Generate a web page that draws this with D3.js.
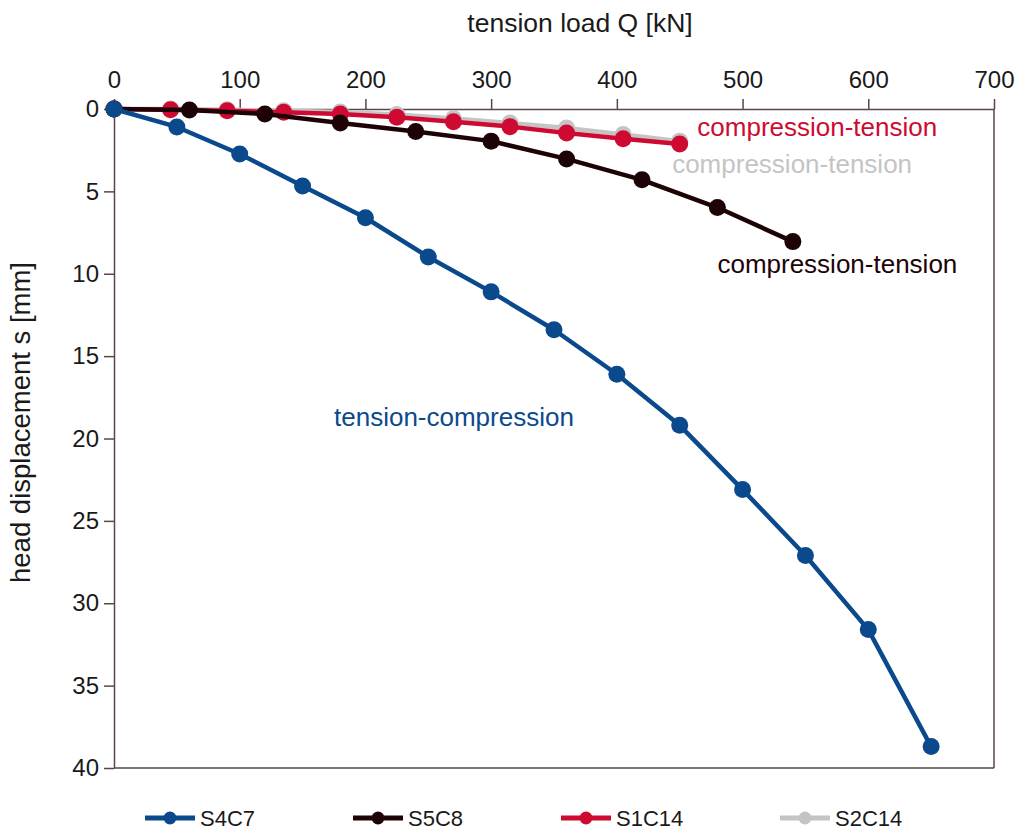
<!DOCTYPE html>
<html>
<head>
<meta charset="utf-8">
<script src="https://cdn.jsdelivr.net/npm/d3@7"></script>
<style>
  html, body { margin: 0; padding: 0; background: #ffffff; }
  svg { display: block; font-family: "Liberation Sans", Arial, sans-serif; }
</style>
</head>
<body>
<svg id="chart" width="1019" height="836"></svg>
<script>
// ---------- data ----------
const loadS4C7 = [0, 50, 100, 150, 200, 250, 300, 350, 400, 450, 500, 550, 600, 650];
const dispS4C7 = [0, 1.09, 2.73, 4.67, 6.6, 8.98, 11.1, 13.4, 16.1, 19.2, 23.1, 27.1, 31.6, 38.7];

const loadS5C8 = [0, 60, 120, 180, 240, 300, 360, 420, 480, 540];
const dispS5C8 = [0, 0.06, 0.3, 0.85, 1.37, 1.95, 3.03, 4.3, 5.98, 8.05];

const loadS1C14 = [0, 45, 90, 135, 180, 225, 270, 315, 360, 405, 450];
const dispS1C14 = [0, 0.05, 0.1, 0.2, 0.3, 0.5, 0.78, 1.07, 1.45, 1.8, 2.13];

const loadS2C14 = [0, 45, 90, 135, 180, 225, 270, 315, 360, 405, 450];
const dispS2C14 = [0, 0, 0.04, 0.1, 0.18, 0.33, 0.58, 0.85, 1.15, 1.55, 1.95];

const seriesNames = ["S4C7", "S5C8", "S1C14", "S2C14"];
const seriesColors = ["#0a4a8c", "#1e0306", "#cf0a32", "#c4c4c4"];
const xTicks = [0, 100, 200, 300, 400, 500, 600, 700];
const yTicks = [0, 5, 10, 15, 20, 25, 30, 35, 40];

const annotations = [
  { text: "compression-tension", color: "#cf0a32", q: 464, s: 1.64 },
  { text: "compression-tension", color: "#c4c4c4", q: 444, s: 3.88 },
  { text: "compression-tension", color: "#1e0306", q: 480, s: 9.95 },
  { text: "tension-compression", color: "#0a4a8c", q: 175, s: 19.24 }
];

// ---------- layout ----------
const svg = d3.select("#chart");
const mLeft = 114, mRight = 994, mTop = 109, mBottom = 768;
const x = d3.scaleLinear().domain([0, 700]).range([mLeft, mRight]);
const y = d3.scaleLinear().domain([0, 40]).range([mTop, mBottom]);
const axisColor = "#5a4646";

// frame (right and bottom borders)
svg.append("line").attr("x1", x(700)).attr("x2", x(700)).attr("y1", y(0)).attr("y2", y(40))
  .attr("stroke", axisColor).attr("stroke-width", 1.5);
svg.append("line").attr("x1", x(0)).attr("x2", x(700)).attr("y1", y(40)).attr("y2", y(40))
  .attr("stroke", axisColor).attr("stroke-width", 1.5);

// top axis
const gx = svg.append("g").attr("transform", `translate(0,${mTop})`)
  .call(d3.axisTop(x).tickValues(xTicks).tickSize(10).tickPadding(11).tickSizeOuter(0));
// left axis
const gy = svg.append("g").attr("transform", `translate(${mLeft},0)`)
  .call(d3.axisLeft(y).tickValues(yTicks).tickSize(10).tickPadding(5).tickSizeOuter(0));

[gx, gy].forEach(g => {
  g.select(".domain").attr("stroke", axisColor).attr("stroke-width", 1.5);
  g.selectAll(".tick line").attr("stroke", axisColor).attr("stroke-width", 1.5);
  g.selectAll(".tick text").attr("fill", "#1a1a1a").style("font-size", "24px")
    .style("font-family", '"Liberation Sans", Arial, sans-serif');
});

// axis titles
svg.append("text").attr("x", 580).attr("y", 32).attr("text-anchor", "middle")
  .style("font-size", "26.5px").attr("fill", "#1a1a1a").text("tension load Q [kN]");
svg.append("text").attr("transform", `translate(30,${(mTop + mBottom) / 2 - 16}) rotate(-90)`)
  .attr("text-anchor", "middle").style("font-size", "27.5px").attr("fill", "#1a1a1a")
  .text("head displacement s [mm]");

// series (drawn in reverse legend order so S4C7 is on top)
const allLoads = [loadS4C7, loadS5C8, loadS1C14, loadS2C14];
const allDisps = [dispS4C7, dispS5C8, dispS1C14, dispS2C14];
const line = d3.line().x(d => x(d[0])).y(d => y(d[1]));

for (let i = seriesNames.length - 1; i >= 0; i--) {
  const pts = allLoads[i].map((q, k) => [q, allDisps[i][k]]);
  const g = svg.append("g");
  g.append("path").datum(pts).attr("d", line).attr("fill", "none")
    .attr("stroke", seriesColors[i]).attr("stroke-width", 4.5).attr("stroke-linejoin", "round");
  g.selectAll("circle").data(pts).join("circle")
    .attr("cx", d => x(d[0])).attr("cy", d => y(d[1])).attr("r", 8.5)
    .attr("fill", seriesColors[i]);
}

// annotations
annotations.forEach(a => {
  svg.append("text").attr("x", x(a.q)).attr("y", y(a.s))
    .style("font-size", "26px").attr("fill", a.color).text(a.text);
});

// legend
const legendX = [145, 353, 561, 780];
const legendY = 818;
seriesNames.forEach((name, i) => {
  const g = svg.append("g").attr("transform", `translate(${legendX[i]},${legendY})`);
  g.append("line").attr("x1", 0).attr("x2", 50).attr("y1", 0).attr("y2", 0)
    .attr("stroke", seriesColors[i]).attr("stroke-width", 5);
  g.append("circle").attr("cx", 25).attr("cy", 0).attr("r", 6.5).attr("fill", seriesColors[i]);
  g.append("text").attr("x", 55).attr("y", 8).style("font-size", "22px")
    .attr("fill", "#1a1a1a").text(name);
});
</script>
</body>
</html>
